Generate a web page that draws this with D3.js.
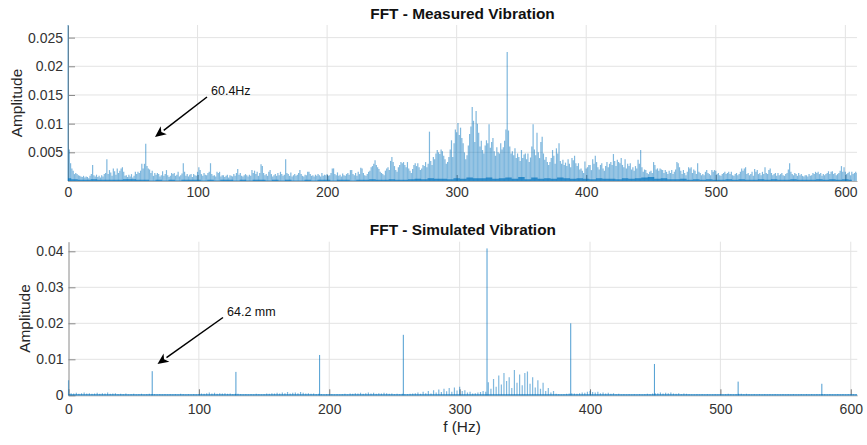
<!DOCTYPE html>
<html><head><meta charset="utf-8">
<script src="https://cdn.jsdelivr.net/npm/d3@7"></script>
<style>body{margin:0;background:#fff;} text{font-family:"Liberation Sans", Arial, Helvetica, sans-serif;}</style>
</head><body><svg id="c" width="867" height="445"></svg>
<script>
// Measured spectrum amplitude, units of 1e-4, one value per Hz (0..609 Hz)
const measuredAmp = [
400,55,31,22,18,12,14,12,10,9,
8,7,9,6,8,7,5,9,12,28,
10,8,11,7,9,6,10,8,12,14,
38,12,19,15,9,22,17,11,22,14,
18,22,24,16,9,10,7,11,8,12,
6,9,16,12,16,14,18,30,22,30,
65,26,22,20,14,18,9,14,11,14,
12,8,10,17,9,12,19,10,7,9,
14,12,14,9,11,16,8,10,13,31,
16,9,12,8,11,12,7,12,10,9,
16,24,19,12,9,14,11,10,14,16,
31,12,9,10,8,16,14,16,8,10,
10,7,9,11,6,10,9,8,12,9,
14,21,11,14,9,8,10,12,10,8,
11,9,19,14,18,12,16,9,14,29,
26,14,10,12,9,16,19,12,8,10,
12,9,14,10,16,12,9,11,38,14,
12,9,15,8,10,12,9,11,14,19,
12,9,8,11,10,16,16,12,9,10,
8,11,9,12,10,8,14,9,11,10,
12,9,10,14,22,22,12,10,15,9,
11,8,13,10,9,12,14,11,19,19,
12,10,14,9,16,12,23,22,14,10,
9,12,16,18,24,26,30,36,28,24,
21,16,14,12,10,18,22,24,19,35,
42,33,26,19,16,24,28,33,31,33,
28,24,33,22,18,14,21,28,31,26,
31,24,19,22,28,26,33,24,30,86,
35,28,42,38,48,54,50,47,55,52,
44,38,30,33,42,55,71,42,66,90,
85,101,80,93,75,66,50,38,45,62,
82,95,129,105,68,122,100,84,60,70,
54,48,62,71,66,99,58,68,75,52,
44,59,50,48,66,55,59,70,90,225,
88,60,48,52,45,57,40,48,42,35,
54,40,46,48,38,48,33,41,60,99,
55,45,84,50,40,68,77,48,37,42,
33,28,33,40,54,44,30,57,48,66,
35,30,37,28,32,26,38,30,24,40,
36,44,31,26,31,20,22,18,14,34,
22,24,28,28,19,38,30,44,33,24,
20,28,31,22,18,26,33,24,30,33,
28,47,35,26,37,33,31,40,28,24,
38,22,30,26,31,20,24,18,26,22,
37,30,54,24,16,20,19,14,12,16,
18,14,33,28,20,22,18,22,20,19,
14,19,16,12,18,14,19,12,16,20,
33,31,24,18,12,19,14,10,16,24,
22,24,14,20,18,12,31,16,14,10,
12,10,16,19,14,12,10,19,16,19,
18,12,14,10,9,12,14,16,12,14,
16,12,16,10,9,12,14,10,12,16,
22,18,22,24,12,14,10,12,16,9,
21,16,19,12,14,10,16,12,24,14,
12,19,22,14,10,12,14,9,14,10,
12,14,10,9,12,14,20,31,16,12,
10,14,12,9,14,10,12,9,8,10,
10,8,12,9,10,14,12,16,14,16,
12,14,9,12,10,12,14,17,12,16,
17,12,14,10,12,14,18,26,16,24,
16,12,14,16,10,16,12,14,16,14];
// Measured dense floor, units of 1e-4, every 5 Hz (0..605 Hz)
const measuredFloor = [
5,3,2,2,3,2,2,2,2,3,3,2,2,1,2,1,2,1,2,2,
2,1,2,1,2,2,1,2,1,2,2,1,2,1,2,1,1,2,1,2,
2,1,2,2,1,2,2,3,2,2,3,2,2,3,4,3,5,4,4,3,
5,4,6,5,5,6,4,5,6,4,7,3,6,4,5,4,6,5,4,5,
4,3,5,4,4,3,5,4,5,6,7,4,5,3,3,4,2,3,2,3,
2,2,3,2,3,2,2,3,2,3,2,2,3,2,2,2,3,2,3,2,3,2];
// Simulated spectrum noise, units of 1e-4, every 2 Hz (0..604 Hz)
const simNoise = [
42,6,5,7,4,6,8,5,6,4,
5,7,4,6,5,8,4,5,6,3,
4,3,5,2,3,4,2,3,4,2,
3,4,3,3,2,3,2,3,2,3,
2,3,2,4,3,2,3,2,3,2,
3,5,4,6,8,5,7,4,6,5,
6,4,5,3,4,4,3,2,3,2,
3,2,4,3,2,3,5,4,6,5,
7,5,8,6,9,5,7,8,6,9,
7,5,6,4,5,3,4,3,2,3,
2,3,2,3,2,3,4,2,5,4,
6,5,7,4,6,8,5,7,4,6,
5,7,6,4,5,3,4,3,4,3,
3,4,5,6,8,4,10,6,12,5,
14,8,16,9,18,11,20,10,22,13,
24,12,14,8,10,5,6,8,9,12,
10,36,18,45,24,55,30,62,40,50,
20,70,35,58,28,62,66,32,50,22,
42,18,35,12,20,8,12,4,3,2,
3,4,5,6,5,4,6,8,7,10,
12,9,8,10,6,8,5,7,4,6,
3,4,2,3,2,3,2,3,2,3,
2,3,4,3,5,6,6,8,5,7,
6,8,5,4,6,3,5,4,3,2,
2,3,2,3,2,3,2,2,3,2,
3,2,3,4,3,2,3,4,4,3,
4,3,2,3,2,3,2,3,2,3,
2,3,2,2,3,2,3,2,3,2,
2,3,2,3,2,3,2,3,2,3,
3,2,3,2,2,3,2,3,2,3,
2,3,2];
// Simulated harmonic peaks (Hz) and amplitudes (1e-4)
const simPeakFreq = [64.2,128.4,192.6,256.8,321,385.2,449.4,513.6,577.8];
const simPeakAmp  = [67,65,112,168,408,200,87,38,32];
const topYTicks = [0.005,0.01,0.015,0.02,0.025];
const botYTicks = [0,0.01,0.02,0.03,0.04];
const xTicks = [0,100,200,300,400,500,600];

const svg = d3.select("#c");
const BLUE = "#0072BD";
const fmt = d => d === 0 ? "0" : String(+d.toFixed(4));

function panel(o){
  const x = d3.scaleLinear().domain(o.xd).range([o.x0,o.x1]);
  const y = d3.scaleLinear().domain(o.yd).range([o.y0,o.y1]);
  const g = svg.append("g");
  g.append("g").selectAll("line").data(xTicks.filter(d=>d>0)).join("line")
    .attr("x1",d=>x(d)).attr("x2",d=>x(d)).attr("y1",o.y1).attr("y2",o.y0)
    .attr("stroke","#e3e3e3").attr("stroke-width",1);
  g.append("g").selectAll("line").data(o.yt.filter(d=>d>0)).join("line")
    .attr("x1",o.x0).attr("x2",o.x1).attr("y1",d=>y(d)).attr("y2",d=>y(d))
    .attr("stroke","#e3e3e3").attr("stroke-width",1);
  const ax = g.append("g").attr("transform",`translate(0,${o.y0})`)
    .call(d3.axisBottom(x).tickValues(xTicks).tickSizeInner(-6).tickSizeOuter(0).tickPadding(o.xpad).tickFormat(d3.format("d")));
  ax.select(".domain").attr("stroke","#b0b0b0");
  ax.selectAll(".tick line").attr("stroke","#777");
  ax.selectAll("text").attr("font-size",14).attr("fill","#333");
  const ay = g.append("g").attr("transform",`translate(${o.x0},0)`)
    .call(d3.axisLeft(y).tickValues(o.yt).tickSizeInner(-7).tickSizeOuter(0).tickPadding(5).tickFormat(fmt));
  ay.select(".domain").attr("stroke","#8a8a8a");
  ay.selectAll(".tick line").attr("stroke","#8a8a8a");
  ay.selectAll("text").attr("font-size",14).attr("fill","#333");
  const cid = "clip"+o.id;
  svg.append("clipPath").attr("id",cid).append("rect")
    .attr("x",o.x0-1).attr("y",o.y1).attr("width",o.x1-o.x0+1).attr("height",o.y0-o.y1+1);
  const dg = svg.append("g").attr("clip-path",`url(#${cid})`);
  svg.append("text").attr("x",(o.x0+o.x1)/2).attr("y",o.ty).attr("text-anchor","middle")
    .attr("font-size",15.4).attr("font-weight","bold").attr("fill","#111").text(o.title);
  svg.append("text").attr("transform",`translate(${o.lx},${(o.y0+o.y1)/2}) rotate(-90)`)
    .attr("text-anchor","middle").attr("font-size",15.4).attr("fill","#262626").text("Amplitude");
  return {x,y,dg};
}

// ---- Top panel
const P1 = panel({id:1,xd:[0,609],yd:[0,0.0272],x0:68,x1:857,y0:181,y1:25,yt:topYTicks,xpad:6,
  ty:19,title:"FFT - Measured Vibration",lx:22});
P1.dg.append("g").selectAll("line").data(measuredAmp).join("line")
  .attr("x1",(d,i)=>P1.x(i)).attr("x2",(d,i)=>P1.x(i))
  .attr("y1",P1.y(0)).attr("y2",d=>P1.y(d*1e-4))
  .attr("stroke",BLUE).attr("stroke-width",1.2).attr("stroke-opacity",0.5);
const floorArea = d3.area().x((d,i)=>P1.x(i*5)).y0(P1.y(0)).y1(d=>P1.y(d*1e-4)).curve(d3.curveStep);
P1.dg.append("path").datum(measuredFloor).attr("d",floorArea).attr("fill",BLUE).attr("opacity",0.7);

// ---- Bottom panel
const P2 = panel({id:2,xd:[0,605],yd:[0,0.04267],x0:68.5,x1:857.3,y0:395.3,y1:241.7,yt:botYTicks,xpad:9,
  ty:235,title:"FFT - Simulated Vibration",lx:30});
P2.dg.append("g").selectAll("line").data(simNoise).join("line")
  .attr("x1",(d,i)=>P2.x(i*2)).attr("x2",(d,i)=>P2.x(i*2))
  .attr("y1",P2.y(0)).attr("y2",d=>P2.y(d*1e-4))
  .attr("stroke",BLUE).attr("stroke-width",1.2).attr("stroke-opacity",0.5);
P2.dg.append("g").selectAll("line").data(simPeakFreq).join("line")
  .attr("x1",d=>P2.x(d)).attr("x2",d=>P2.x(d))
  .attr("y1",P2.y(0)).attr("y2",(d,i)=>P2.y(simPeakAmp[i]*1e-4))
  .attr("stroke",BLUE).attr("stroke-width",1).attr("stroke-opacity",0.7);
P2.dg.append("line").attr("x1",P2.x(0)).attr("x2",P2.x(605)).attr("y1",P2.y(0)-0.5).attr("y2",P2.y(0)-0.5)
  .attr("stroke",BLUE).attr("stroke-width",1.2).attr("stroke-opacity",0.8);

svg.append("text").attr("x",462).attr("y",432).attr("text-anchor","middle")
  .attr("font-size",15.4).attr("fill","#262626").text("f (Hz)");

// ---- Annotations
function arrow(x1,y1,x2,y2,label,tx,ty){
  const ang = Math.atan2(y2-y1,x2-x1), L=11, W=5;
  const bx = x2 - L*Math.cos(ang), by = y2 - L*Math.sin(ang);
  svg.append("line").attr("x1",x1).attr("y1",y1).attr("x2",bx).attr("y2",by)
    .attr("stroke","#000").attr("stroke-width",1.5);
  const px = -Math.sin(ang), py = Math.cos(ang);
  const back = 3;
  const cx = bx + back*Math.cos(ang), cy = by + back*Math.sin(ang);
  svg.append("path").attr("d",`M${x2},${y2}L${bx+W*px},${by+W*py}L${cx},${cy}L${bx-W*px},${by-W*py}Z`).attr("fill","#000");
  svg.append("text").attr("x",tx).attr("y",ty).attr("font-size",12.5).attr("fill","#111").text(label);
}
arrow(207,97,155,137,"60.4Hz",211,95);
arrow(223,317.5,157.5,364,"64.2 mm",227,316);
</script></body></html>
